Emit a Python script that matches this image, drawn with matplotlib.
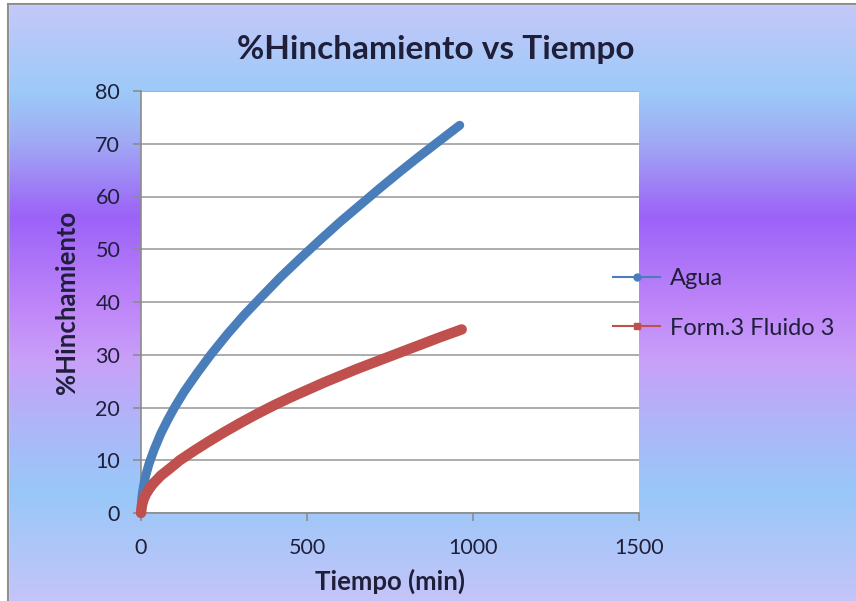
import numpy as np
import matplotlib.pyplot as plt
from matplotlib.colors import LinearSegmentedColormap
from matplotlib.lines import Line2D

# Swelling test readings: time (min) vs % swelling
t_agua = [0, 2, 5, 10, 15, 25, 40, 60, 80, 100, 130, 170, 210, 260, 310, 360,
          420, 480, 540, 600, 660, 720, 780, 840, 900, 960]
h_agua = [0, 2.6, 4.1, 5.9, 7.3, 9.5, 12.1, 15.1, 17.6, 19.9, 23, 26.6, 30,
          33.9, 37.5, 40.8, 44.7, 48.3, 51.8, 55.2, 58.4, 61.6, 64.7, 67.7,
          70.6, 73.5]

t_form3 = [0, 3, 8, 15, 25, 37, 60, 90, 117, 160, 200, 250, 300, 350, 400,
           450, 500, 550, 600, 650, 700, 750, 800, 850, 900, 966]
h_form3 = [0, 1.5, 2.6, 3.6, 4.6, 5.6, 7.1, 8.6, 10, 11.8, 13.4, 15.3, 17.1,
           18.8, 20.4, 21.9, 23.3, 24.7, 26, 27.3, 28.5, 29.7, 30.9, 32.1,
           33.3, 34.8]

series_names = ['Agua', 'Form.3 Fluido 3']
x_ticks = [0, 500, 1000, 1500]
y_ticks = [0, 10, 20, 30, 40, 50, 60, 70, 80]

blue = '#4a7ebb'
red = '#c0504d'
txt = '#1f1f3a'

plt.rcParams['font.family'] = ['Lato', 'DejaVu Sans']

fig = plt.figure(figsize=(8.56, 6.01), dpi=100)

# background band gradient (top to bottom)
bg = fig.add_axes([0, 0, 1, 1], zorder=-10)
stops = [(0.00, '#c6c8f8'), (0.15, '#9ccaf8'), (0.23, '#a0acf4'),
         (0.36, '#9c62f8'), (0.52, '#c088f8'), (0.60, '#c8a0f8'),
         (0.70, '#b0b4f8'), (0.82, '#98c8f8'), (1.00, '#c4c4f8')]
cmap = LinearSegmentedColormap.from_list('bands', stops)
grad = np.linspace(0, 1, 601).reshape(-1, 1)
bg.imshow(grad, aspect='auto', cmap=cmap, extent=[0, 1, 0, 1], origin='upper')
bg.set_xlim(0, 1)
bg.set_ylim(0, 1)
bg.axis('off')
# outer frame edges
fig.add_artist(Line2D([8 / 856, 1], [1 - 4 / 601] * 2, color='#909090', lw=1.5))
fig.add_artist(Line2D([8 / 856] * 2, [0, 1 - 4 / 601], color='#909090', lw=1.5))
fig.add_artist(plt.Rectangle((0, 1 - 4 / 601), 1, 4 / 601, color='white', zorder=-5))
fig.add_artist(plt.Rectangle((0, 0), 8 / 856, 1, color='white', zorder=-5))

ax = fig.add_axes([141 / 856, 1 - 513 / 601, 498 / 856, 422 / 601])
ax.set_facecolor('white')

ax.plot(t_agua, h_agua, color=blue, lw=6.5, solid_capstyle='round',
        solid_joinstyle='round', clip_on=False, zorder=3)
ax.plot(t_form3, h_form3, color=red, lw=7.5, solid_capstyle='round',
        solid_joinstyle='round', clip_on=False, zorder=3)

ax.set_xlim(0, 1500)
ax.set_ylim(0, 80)
ax.set_xticks(x_ticks)
ax.set_yticks(y_ticks)
ax.yaxis.grid(True, color='#a6a6a6', lw=1.3)
ax.set_axisbelow(True)
for side in ['top', 'right']:
    ax.spines[side].set_visible(False)
for side in ['left', 'bottom']:
    ax.spines[side].set_color('#8c8c8c')
    ax.spines[side].set_linewidth(1.2)
ax.tick_params(axis='both', colors='#8c8c8c', length=6, width=1.2,
               labelsize=15.5, labelcolor=txt)
ax.tick_params(axis='x', pad=12)
ax.tick_params(axis='y', pad=9)

ax.set_xlabel('Tiempo (min)', fontsize=18.5, fontweight='bold', color=txt,
              labelpad=8)
ax.set_ylabel('%Hinchamiento', fontsize=18.5, fontweight='bold', color=txt,
              labelpad=12)
fig.text(436 / 856, 1 - 50 / 601, '%Hinchamiento vs Tiempo', ha='center',
         va='center', fontsize=24, fontweight='bold', color=txt)

handles = [Line2D([], [], color=blue, lw=1.5, marker='o', markersize=5),
           Line2D([], [], color=red, lw=1.5, marker='s', markersize=5)]
fig.legend(handles, series_names, loc='upper left',
           bbox_to_anchor=(592 / 856, 1 - 247 / 601), frameon=False,
           fontsize=17, labelcolor=txt, handlelength=2.0, handletextpad=0.4,
           labelspacing=1.2)

fig.savefig('out.png', dpi=100)
